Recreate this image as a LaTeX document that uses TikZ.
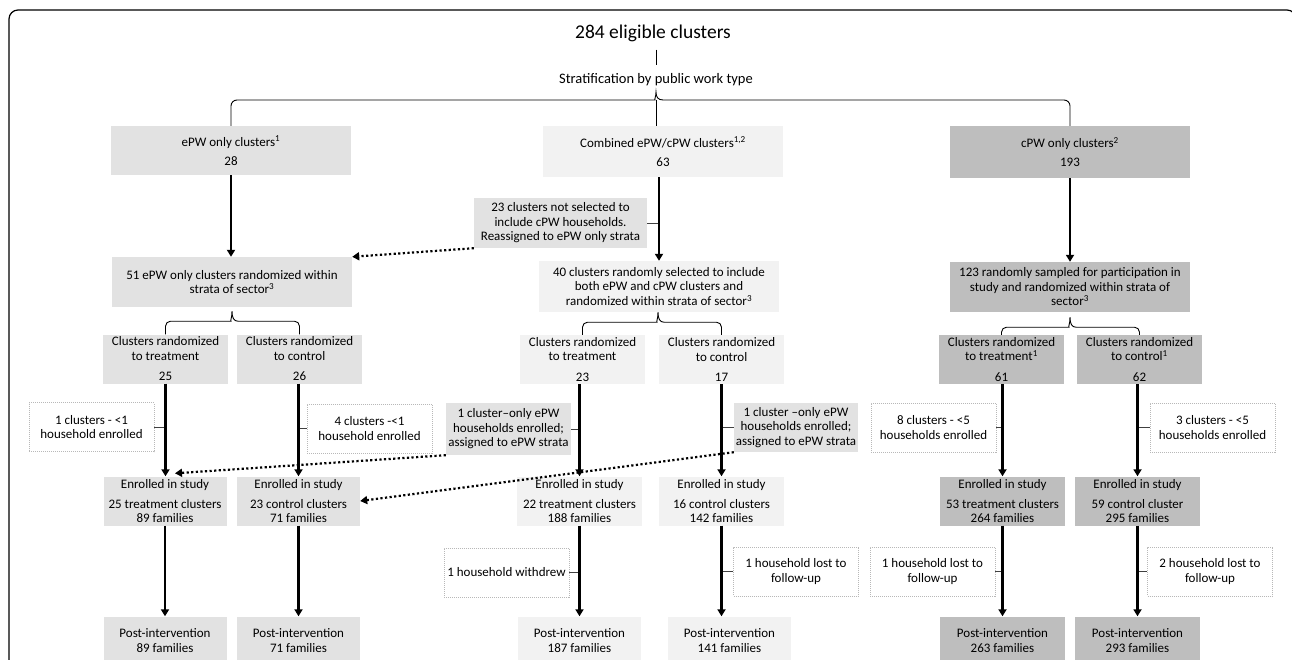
\documentclass[tikz,border=0pt]{standalone}
\usepackage{fontspec}
\setmainfont{Carlito}
\usetikzlibrary{arrows.meta,calc}
\definecolor{colE}{HTML}{E2E2E2}
\definecolor{colC}{HTML}{F2F2F2}
\definecolor{colP}{HTML}{BEBEBE}
\definecolor{stubc}{HTML}{404040}
\begin{document}
\begin{tikzpicture}[x=1pt,y=-1pt,
  bx/.style={rectangle, inner sep=1pt, align=center, font=\fontsize{13}{14.5}\selectfont},
  bxE/.style={bx, fill=colE},
  bxC/.style={bx, fill=colC},
  bxP/.style={bx, fill=colP},
  wide/.style={minimum width=240pt},
  small/.style={minimum width=125pt, minimum height=49pt},
  dbox/.style={bx, draw=black!28, dash pattern=on 1pt off 1pt, line width=0.8pt, fill=white, minimum width=125pt, minimum height=49pt},
  arr/.style={line width=2.4pt, -{Triangle[length=7pt,width=8pt]}},
  darr/.style={line width=2.2pt, dash pattern=on 2.2pt off 2.4pt, -{Triangle[length=7pt,width=8pt]}},
  stub/.style={line width=0.9pt, draw=stubc},
  brc/.style={line width=0.9pt, draw=black},
]
\useasboundingbox (0,0) rectangle (1292,660);
\begin{scope}
\clip (0,0) rectangle (1292,660);
\draw[line width=1.2pt, rounded corners=9pt] (9,700) -- (9,10) -- (1296,10) -- (1296,700);

% title
\node[inner sep=0pt, font=\fontsize{19.5}{23}\selectfont] (title) at (653,33) {284 eligible clusters};
\node[inner sep=0pt, font=\fontsize{14.5}{17}\selectfont] (strat) at (656,80) {Stratification by public work type};

% level 1
\node[bxE, wide, minimum height=49pt] (e1) at (231,150.5) {ePW only clusters\textsuperscript{1}\\[4.5pt]28};
\node[bxC, wide, minimum height=51pt] (c1) at (663,151.5) {Combined ePW/cPW clusters\textsuperscript{1,2}\\[4.5pt]63};
\node[bxP, wide, minimum height=52pt] (p1) at (1070,152) {cPW only clusters\textsuperscript{2}\\[4.5pt]193};

\node[bxE, minimum width=173pt, minimum height=50pt] (c1r) at (560.5,223) {23 clusters not selected to\\include cPW households.\\Reassigned to ePW only strata};

% level 2
\node[bxE, wide, minimum height=50pt] (e2) at (232,282) {51 ePW only clusters randomized within\\strata of sector\textsuperscript{3}};
\node[bxC, wide, minimum height=51pt] (c2) at (659,286.5) {40 clusters randomly selected to include\\both ePW and cPW clusters and\\randomized within strata of sector\textsuperscript{3}};
\node[bxP, wide, minimum height=50pt] (p2) at (1070,287) {123 randomly sampled for participation in\\study and randomized within strata of\\sector\textsuperscript{3}};

% level 3
\node[bxE, small] (e3t) at (165.5,359) {Clusters randomized\\to treatment\\[6pt]25};
\node[bxE, small] (e3c) at (299.5,359) {Clusters randomized\\to control\\[6pt]26};
\node[bxC, small] (c3t) at (582.5,359.5) {Clusters randomized\\to treatment\\[6pt]23};
\node[bxC, small] (c3c) at (721.5,359.5) {Clusters randomized\\to control\\[6pt]17};
\node[bxP, small] (p3t) at (1001.5,359.5) {Clusters randomized\\to treatment\textsuperscript{1}\\[6pt]61};
\node[bxP, small] (p3c) at (1139.5,359.5) {Clusters randomized\\to control\textsuperscript{1}\\[6pt]62};

% exclusion boxes
\node[dbox] (d1) at (91.5,427) {1 clusters - <1\\household enrolled};
\node[dbox] (d2) at (369.5,428.5) {4 clusters -<1\\household enrolled};
\node[bxE, minimum width=125pt, minimum height=52pt] (g1) at (508.5,429) {1 cluster–only ePW\\households enrolled;\\assigned to ePW strata};
\node[bxE, minimum width=124pt, minimum height=49pt] (g2) at (796,427.5) {1 cluster –only ePW\\households enrolled;\\assigned to ePW strata};
\node[dbox] (d3) at (933.5,427.5) {8 clusters - <5\\households enrolled};
\node[dbox] (d4) at (1212.5,427.5) {3 clusters - <5\\households enrolled};

% enrolled
\node[bxE, minimum width=123pt, minimum height=49pt] (e4t) at (165,501) {Enrolled in study\\[5.5pt]25 treatment clusters\\89 families};
\node[bxE, minimum width=123pt, minimum height=49pt] (e4c) at (298.5,501) {Enrolled in study\\[5.5pt]23 control clusters\\71 families};
\node[bxC, small] (c4t) at (579.5,501) {Enrolled in study\\[5.5pt]22 treatment clusters\\188 families};
\node[bxC, small] (c4c) at (721.5,501) {Enrolled in study\\[5.5pt]16 control clusters\\142 families};
\node[bxP, small] (p4t) at (1002.5,501) {Enrolled in study\\[5.5pt]53 treatment clusters\\264 families};
\node[bxP, small] (p4c) at (1137.5,501) {Enrolled in study\\[5.5pt]59 control cluster\\295 families};

% losses
\node[dbox] (d5) at (506.5,572.5) {1 household withdrew};
\node[dbox] (d6) at (796,571.5) {1 household lost to\\follow-up};
\node[dbox] (d7) at (932.5,571.5) {1 household lost to\\follow-up};
\node[dbox] (d8) at (1210,571.5) {2 household lost to\\follow-up};

% post
\node[bxE, minimum width=123pt, minimum height=48pt] (e5t) at (165,640.5) {Post-intervention\\89 families};
\node[bxE, minimum width=123pt, minimum height=48pt] (e5c) at (298.5,640.5) {Post-intervention\\71 families};
\node[bxC, minimum width=123pt, minimum height=48pt] (c5t) at (579.5,640.5) {Post-intervention\\187 families};
\node[bxC, minimum width=123pt, minimum height=48pt] (c5c) at (729.5,640.5) {Post-intervention\\141 families};
\node[bxP, minimum width=125pt, minimum height=48pt] (p5t) at (1002.5,640.5) {Post-intervention\\263 families};
\node[bxP, minimum width=125pt, minimum height=48pt] (p5c) at (1137.5,640.5) {Post-intervention\\293 families};

% title connector
\draw[brc, shorten <=8pt, shorten >=9pt] (title.south -| strat.north) -- (strat.north);

% top brace
\coordinate (bt) at (656,100);
\draw[brc] (e1.north) [rounded corners=6pt] -- (e1.north |- bt) -- ([xshift=-7pt]bt) [sharp corners]
  .. controls ([xshift=-2pt]bt) and ([yshift=3pt]bt) .. ([yshift=8pt]bt)
  .. controls ([yshift=3pt]bt) and ([xshift=2pt]bt) .. ([xshift=7pt]bt)
  [rounded corners=6pt] -- (p1.north |- bt) -- (p1.north);
\draw[brc] (bt) -- (bt |- c1.north);

% lower braces
\coordinate (b1) at ($(e2.south)+(0,14)$);
\draw[brc] (e3t.north) [rounded corners=5pt] -- (e3t.north |- b1) -- ([xshift=-6pt]b1) [sharp corners]
  .. controls ([xshift=-2pt]b1) and ([yshift=3pt]b1) .. ([yshift=10pt]b1)
  .. controls ([yshift=3pt]b1) and ([xshift=2pt]b1) .. ([xshift=6pt]b1)
  [rounded corners=5pt] -- (e3c.north |- b1) -- (e3c.north);
\coordinate (b2) at ($(c2.south)+(-1,10)$);
\draw[brc] (c3t.north) [rounded corners=5pt] -- (c3t.north |- b2) -- ([xshift=-6pt]b2) [sharp corners]
  .. controls ([xshift=-2pt]b2) and ([yshift=3pt]b2) .. ([yshift=10pt]b2)
  .. controls ([yshift=3pt]b2) and ([xshift=2pt]b2) .. ([xshift=6pt]b2)
  [rounded corners=5pt] -- (c3c.north |- b2) -- (c3c.north);
\coordinate (b3) at ($(p2.south)+(0,15)$);
\draw[brc] (p3t.north) [rounded corners=5pt] -- (p3t.north |- b3) -- ([xshift=-6pt]b3) [sharp corners]
  .. controls ([xshift=-2pt]b3) and ([yshift=3pt]b3) .. ([yshift=10pt]b3)
  .. controls ([yshift=3pt]b3) and ([xshift=2pt]b3) .. ([xshift=6pt]b3)
  [rounded corners=5pt] -- (p3c.north |- b3) -- (p3c.north);

% stubs
\draw[stub] (c1r.east) -- (c1r.east -| c2.north);
\draw[stub] (d1.east) -- (d1.east -| e3t.south);
\draw[stub] (d2.west) -- (d2.west -| e4c.north);
\draw[stub] (g1.east) -- (g1.east -| c4t.north);
\draw[stub] (g2.west) -- (g2.west -| c4c.north);
\draw[stub] (d3.east) -- (d3.east -| p4t.north);
\draw[stub] (d4.west) -- (d4.west -| p4c.north);
\draw[stub] (d5.east) -- (d5.east -| c4t.south);
\draw[stub] (d6.west) -- (d6.west -| c4c.south);
\draw[stub] (d7.east) -- (d7.east -| p4t.south);
\draw[stub] (d8.west) -- (d8.west -| p4c.south);

% main arrows
\draw[arr] (e1.south) -- (e1.south |- e2.north);
\draw[arr] (c2.north |- c1.south) -- (c2.north);
\draw[arr] (p1.south) -- (p1.south |- p2.north);
\draw[arr] (e3t.south) -- (e3t.south |- e4t.north);
\draw[arr] (e4c.north |- e3c.south) -- (e4c.north);
\draw[arr] (c4t.north |- c3t.south) -- (c4t.north);
\draw[arr] (c4c.north |- c3c.south) -- (c4c.north);
\draw[arr] (p4t.north |- p3t.south) -- (p4t.north);
\draw[arr] (p4c.north |- p3c.south) -- (p4c.north);
\draw[arr] (e4t.south) -- (e4t.south |- e5t.north);
\draw[arr] (e4c.south) -- (e4c.south |- e5c.north);
\draw[arr] (c4t.south) -- (c4t.south |- c5t.north);
\draw[arr] (c4c.south) -- (c4c.south |- c5c.north);
\draw[arr] (p4t.south) -- (p4t.south |- p5t.north);
\draw[arr] (p4c.south) -- (p4c.south |- p5c.north);

% dotted reassignment arrows
\draw[darr] (c1r.south west) -- (e2.north east);
\draw[darr] (g1.south west) -- ($(e4t.north)+(10,-3)$);
\draw[darr] (g2.south west) -- (e4c.east);
\end{scope}
\end{tikzpicture}
\end{document}
